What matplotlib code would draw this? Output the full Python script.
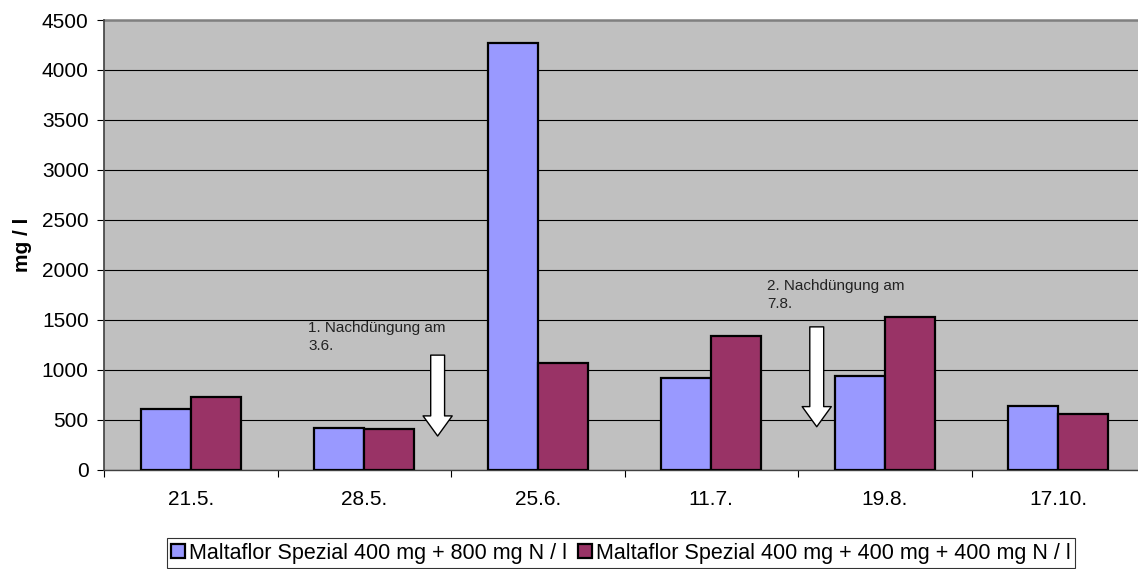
import numpy as np
import matplotlib
matplotlib.use('Agg')
import matplotlib.pyplot as plt

dates = ['21.5.', '28.5.', '25.6.', '11.7.', '19.8.', '17.10.']
spezial_800 = [605, 418, 4265, 912, 938, 638]
spezial_400 = [728, 405, 1065, 1335, 1522, 555]
labels = ['Maltaflor Spezial 400 mg + 800 mg N / l',
          'Maltaflor Spezial 400 mg + 400 mg + 400 mg N / l']

plt.rcParams['font.family'] = ['Liberation Sans', 'DejaVu Sans']

fig = plt.figure(figsize=(11.38, 5.69), dpi=100)
ax = fig.add_axes([104 / 1138, 99.5 / 569, 1041 / 1138, 449.5 / 569])
ax.set_facecolor('#C0C0C0')

x = np.arange(len(dates))
w = 0.288
b1 = ax.bar(x - w / 2, spezial_800, width=w, color='#9999FF', edgecolor='black', linewidth=1.6, zorder=3)
b2 = ax.bar(x + w / 2, spezial_400, width=w, color='#993366', edgecolor='black', linewidth=1.6, zorder=3)

ax.set_xlim(-0.5, len(dates) - 0.5)
ax.set_ylim(0, 4500)
ax.set_yticks(np.arange(0, 4501, 500))
ax.yaxis.grid(True, color='black', linewidth=0.8, zorder=1)
ax.set_axisbelow(True)

ax.set_xticks(x)
ax.set_xticklabels(dates)
ax.set_xticks(np.arange(-0.5, len(dates)), minor=True)
ax.tick_params(axis='x', which='major', length=0, pad=15, labelsize=15)
ax.tick_params(axis='x', which='minor', length=5, width=0.8, direction='out')
ax.tick_params(axis='y', length=5, width=0.8, pad=6, labelsize=15)

for s in ['top', 'right']:
    ax.spines[s].set_visible(False)
ax.spines['left'].set_color('#404040')
ax.spines['left'].set_linewidth(1.2)
ax.spines['bottom'].set_color('#404040')
ax.spines['bottom'].set_linewidth(1.0)
ax.axhline(4500, color='#808080', linewidth=1.8, clip_on=False, zorder=2)

ax.set_ylabel('mg / l', fontsize=15, fontweight='bold', labelpad=7)

# Nachdüngung arrows and notes
arrow_style = 'simple,head_length=1.45,head_width=2.1,tail_width=1.0'
ax.annotate('', xy=(1.423, 335), xytext=(1.423, 1145),
            arrowprops=dict(arrowstyle=arrow_style, fc='white', ec='black', lw=1,
                            shrinkA=0, shrinkB=0, mutation_scale=10), zorder=4)
ax.annotate('', xy=(3.608, 428), xytext=(3.608, 1428),
            arrowprops=dict(arrowstyle=arrow_style, fc='white', ec='black', lw=1,
                            shrinkA=0, shrinkB=0, mutation_scale=10), zorder=4)
ax.text(0.676, 1485, '1. Nachdüngung am\n3.6.', fontsize=11, va='top', ha='left',
        linespacing=1.35, color='#222222', zorder=5)
ax.text(3.32, 1910, '2. Nachdüngung am\n7.8.', fontsize=11, va='top', ha='left',
        linespacing=1.35, color='#222222', zorder=5)

leg = fig.legend([b1, b2], labels, loc='center', bbox_to_anchor=(0.5457, 0.028), ncol=2,
                 fontsize=15.5, frameon=True, fancybox=False, edgecolor='black',
                 handlelength=0.65, handleheight=0.65, handletextpad=0.2,
                 columnspacing=0.5, borderpad=0.2, borderaxespad=0)
leg.get_frame().set_linewidth(0.8)

fig.savefig('out.png', dpi=100)
